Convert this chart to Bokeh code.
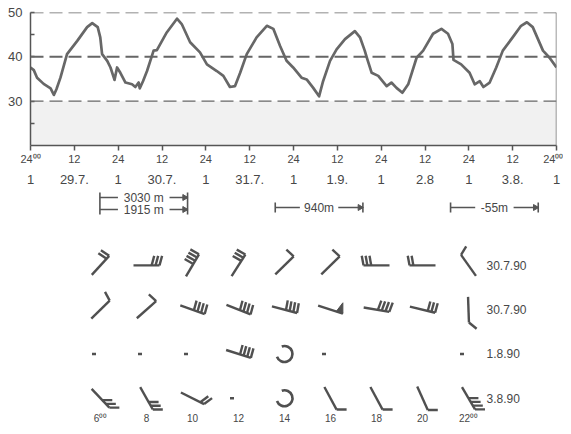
import math
from bokeh.plotting import figure
from bokeh.models import Range1d, FixedTicker, LinearAxis, Span, BoxAnnotation, Label
from bokeh.layouts import column
from bokeh.embed import file_html
from bokeh.resources import INLINE
from bokeh.core.properties import value

FONT = "Liberation Sans"
INK = "#474747"
LINEC = "#666666"

# ---------------- data ----------------
# temperature trace (hours since 24:00 of 28.7., degrees C)
hours = [0, 0.9, 1.8, 3.6, 5.5, 6.4, 7.1, 8.2, 10.0, 12.8, 15.5, 16.9, 18.4, 19.1, 19.6, 21.0,
         21.9, 23.0, 23.7, 24.6, 26.0, 27.8, 28.7, 29.6, 29.9, 30.8, 31.9, 33.7, 34.6, 37.3,
         40.1, 41.4, 43.7, 46.4, 48.3, 51.0, 52.8, 54.6, 56.0, 57.4, 59.2, 61.9, 64.7, 66.5,
         68.3, 70.1, 71.9, 74.2, 75.6, 77.4, 79.0, 80.1, 82.0, 83.8, 86.1, 88.8, 90.2, 91.5,
         92.2, 93.4, 95.2, 97.5, 98.8, 100.2, 101.8, 103.4, 105.7, 107.5, 110.2, 112.5, 114.3,
         115.5, 115.8, 117.9, 120.2, 121.6, 123.0, 124.0, 125.7, 127.5, 129.3, 132.0, 134.3,
         135.9, 137.5, 140.3, 142.1, 144.0]
temps = [37.6, 37.0, 35.3, 33.9, 32.9, 31.4, 32.7, 35.3, 40.6, 43.6, 46.7, 47.6, 46.7, 44.4, 40.6, 39.1,
         37.6, 34.8, 37.6, 36.4, 34.2, 33.8, 33.2, 34.2, 32.9, 34.5, 36.8, 41.4, 41.5, 45.5,
         48.6, 47.4, 43.3, 41.0, 38.3, 36.8, 35.7, 33.2, 33.4, 36.4, 40.6, 44.4, 47.0, 46.3,
         42.5, 39.1, 37.6, 35.3, 34.9, 33.0, 31.1, 34.5, 39.1, 41.7, 44.0, 45.8, 44.4, 41.4,
         39.5, 36.4, 35.7, 33.4, 34.2, 33.0, 31.9, 33.8, 39.8, 41.4, 45.2, 46.3, 45.2,
         42.9, 39.3, 38.3, 36.4, 33.8, 34.5, 33.2, 34.2, 37.6, 41.4, 44.4, 47.0,
         47.8, 46.7, 41.4, 39.8, 37.6]

tick_hours = [0, 12, 24, 36, 48, 60, 72, 84, 96, 108, 120, 132, 144]
clock_labels = ["24\u2070\u2070", "12", "24", "12", "24", "12", "24", "12", "24", "12", "24", "12", "24\u2070\u2070"]
date_labels = ["1", "29.7.", "1", "30.7.", "1", "31.7.", "1", "1.9.", "1", "2.8", "1", "3.8.", "1"]
temp_ticks = [25, 30, 40, 45, 50]
temp_tick_labels = ["", "30", "40", "", "50"]
ref_levels = [30, 40, 50]
shade_bottom, shade_top = 20, 30

bracket_start = [19, 67, 115]
bracket_end = [43, 91, 139]
bracket_texts = [["3030 m", "1915 m"], ["940m"], ["-55m"]]

wind_hours = [6, 8, 10, 12, 14, 16, 18, 20, 22]
wind_hour_labels = ["6\u2070\u2070", "8", "10", "12", "14", "16", "18", "20", "22\u2070\u2070"]
row_dates = ["30.7.90", "30.7.90", "1.8.90", "3.8.90"]
# state: b = wind barb, c = calm, m = missing, n = nothing
row1_state = ["b", "b", "b", "b", "b", "b", "b", "b", "b"]
row1_shaft = [48, 0, 60, 58, 45, 45, 180, 180, 125]
row1_feather = [146, 75, 150, 150, 137, 137, 100, 100, 59]
row1_count = [2, 3, 4, 3, 1, 1, 3, 2, 1]
row1_pennant = [0, 0, 0, 0, 0, 0, 0, 0, 0]

row2_state = ["b", "b", "b", "b", "b", "b", "b", "b", "b"]
row2_shaft = [45, 42, -20, -22, -15, -18, -10, -14, -88]
row2_feather = [118, 137, 75, 75, 80, 90, 70, 75, -40]
row2_count = [1, 1, 4, 4, 4, 0, 4, 3, 1]
row2_pennant = [0, 0, 0, 0, 0, 1, 0, 0, 0]

row3_state = ["m", "m", "m", "b", "c", "m", "n", "n", "m"]
row3_shaft = [0, 0, 0, -18, 0, 0, 0, 0, 0]
row3_feather = [0, 0, 0, 75, 0, 0, 0, 0, 0]
row3_count = [0, 0, 0, 4, 0, 0, 0, 0, 0]
row3_pennant = [0, 0, 0, 0, 0, 0, 0, 0, 0]

row4_state = ["b", "b", "b", "m", "c", "b", "b", "b", "b"]
row4_shaft = [-47, -61, -27, 0, 0, -62, -62, -66, -60]
row4_feather = [0, 0, 37, 0, 0, 0, 0, 0, 0]
row4_count = [3, 3, 2, 0, 0, 1, 1, 1, 4]
row4_pennant = [0, 0, 0, 0, 0, 0, 0, 0, 0]

# ---------------- layout constants ----------------
W = 563
FRAME_L, FRAME_R = 30, 7
FW = W - FRAME_L - FRAME_R

# ---------------- figure 1 : temperature ----------------
p1 = figure(width=W, height=191, x_range=Range1d(0, 144), y_range=Range1d(20, 50),
            output_backend="svg", toolbar_location=None,
            min_border_left=FRAME_L, min_border_right=FRAME_R, min_border_top=12,
            min_border_bottom=46)
p1.outline_line_color = None
p1.grid.visible = False

p1.add_layout(BoxAnnotation(bottom=shade_bottom, top=shade_top, fill_color="#f1f1f1",
                            fill_alpha=1, line_color=None, level="underlay"))
for lv in ref_levels:
    p1.add_layout(Span(location=lv, dimension="width", line_color=LINEC,
                       line_width=2.0 if lv == 40 else 1.3, line_dash="13 6"))
p1.add_layout(Span(location=tick_hours[-1], dimension="height", line_color="#777777", line_width=1.5))

p1.line(hours, temps, line_color="#676767", line_width=2.7, line_join="round")

yax = p1.yaxis[0]
yax.ticker = FixedTicker(ticks=temp_ticks)
yax.major_label_overrides = {t: l for t, l in zip(temp_ticks, temp_tick_labels)}
yax.major_tick_in = 4
yax.major_tick_out = 0
yax.minor_tick_line_color = None
yax.axis_line_color = "#555555"
yax.axis_line_width = 1.5
yax.major_tick_line_color = "#555555"
yax.major_tick_line_width = 1.5
yax.major_label_standoff = 8
yax.major_label_text_font = FONT
yax.major_label_text_font_size = "13px"
yax.major_label_text_color = INK

xax = p1.xaxis[0]
xax.ticker = FixedTicker(ticks=tick_hours)
xax.major_label_overrides = {t: l for t, l in zip(tick_hours, clock_labels)}
xax.major_tick_in = 0
xax.major_tick_out = 5
xax.minor_tick_line_color = None
xax.axis_line_color = "#555555"
xax.axis_line_width = 1.5
xax.major_tick_line_color = "#555555"
xax.major_tick_line_width = 1.5
xax.major_label_standoff = 2
xax.major_label_text_font = FONT
xax.major_label_text_font_size = "11px"
xax.major_label_text_color = INK

ax2 = LinearAxis(ticker=FixedTicker(ticks=tick_hours),
                 major_label_overrides={t: l for t, l in zip(tick_hours, date_labels)},
                 axis_line_color=None, major_tick_line_color=None, minor_tick_line_color=None,
                 major_tick_out=0, major_tick_in=0,
                 major_label_standoff=7, major_label_text_font=FONT,
                 major_label_text_font_size="13px", major_label_text_color=INK)
p1.add_layout(ax2, "below")

p1.add_layout(Label(x=0, y=46.7, x_offset=-20, text="\u00b0C", text_font=FONT,
                    text_font_size="12px", text_color=INK, text_baseline="middle",
                    text_align="left"))

# ---------------- figure 2 : height brackets ----------------
p2 = figure(width=W, height=30, x_range=p1.x_range, y_range=Range1d(30, 0),
            output_backend="svg", toolbar_location=None, x_axis_location=None,
            y_axis_location=None, min_border_left=FRAME_L, min_border_right=FRAME_R,
            min_border_top=0, min_border_bottom=0)
p2.outline_line_color = None
p2.grid.visible = False
px_h = 144.0 / FW
bx0, by0, bx1, by1 = [], [], [], []
tx, ty, tt = [], [], []
ax_, ay_ = [], []
for s, e, texts in zip(bracket_start, bracket_end, bracket_texts):
    rows_y = [6, 18] if len(texts) == 2 else [16]
    top, bot = rows_y[0] - 5, rows_y[-1] + 5
    bx0 += [s, e]; bx1 += [s, e]; by0 += [top, top]; by1 += [bot, bot]
    span_px = (e - s) / px_h
    for yy, t in zip(rows_y, texts):
        tw = len(t) * 6.6
        ln = (span_px - tw) / 2 - 6
        bx0 += [s, e - ln * px_h]; bx1 += [s + ln * px_h, e]
        by0 += [yy, yy]; by1 += [yy, yy]
        ax_.append(e - 3 * px_h); ay_.append(yy)
        tx.append((s + e) / 2); ty.append(yy); tt.append(t)
p2.segment(bx0, by0, bx1, by1, line_color="#555555", line_width=1.6)
p2.scatter(ax_, ay_, marker="triangle", size=6, angle=-math.pi / 2,
           fill_color="#555555", line_color="#555555")
p2.text(tx, ty, text=tt, text_font=value(FONT), text_font_size="12px", text_color=INK,
        text_align="center", text_baseline="middle")

# ---------------- figure 3 : wind symbols ----------------
PX_PER_H = 23.0
X0 = 6 - (100 - FRAME_L) / PX_PER_H
X1 = X0 + FW / PX_PER_H
FH = 194
Y1 = 4.99
Y0 = Y1 - FH / 45.0
p3 = figure(width=W, height=205, x_range=Range1d(X0, X1), y_range=Range1d(Y0, Y1),
            output_backend="svg", toolbar_location=None, y_axis_location=None,
            min_border=0, min_border_left=FRAME_L, min_border_right=FRAME_R,
            min_border_bottom=205 - FH)
p3.outline_line_color = None
p3.grid.visible = False
kx = FW / (X1 - X0)
ky = FH / (Y1 - Y0)

sx0, sy0, sx1, sy1 = [], [], [], []
px_, py_ = [], []
cx_, cy_ = [], []
L, F, SP = 26.0, 10.0, 3.8


def add_row(rv, state, shaft, feather, count, pennant):
    for h, st, a, b, n, pn in zip(wind_hours, state, shaft, feather, count, pennant):
        if st == "m":
            sx0.append(h - 8.5 / kx); sx1.append(h - 4.5 / kx)
            sy0.append(rv); sy1.append(rv)
        elif st == "c":
            cx_.append(h); cy_.append(rv)
        elif st == "b":
            ux, uy = math.cos(math.radians(a)), math.sin(math.radians(a))
            wx, wy = math.cos(math.radians(b)), math.sin(math.radians(b))
            S = SP / max(0.5, abs(math.sin(math.radians(b - a))))

            def pt(dx, dy):
                return h + dx / kx, rv + dy / ky

            x0, y0 = pt(-L / 2 * ux, -L / 2 * uy)
            x1, y1 = pt(L / 2 * ux, L / 2 * uy)
            sx0.append(x0); sy0.append(y0); sx1.append(x1); sy1.append(y1)
            off = 0.0
            if pn:
                t = (L / 2 * ux, L / 2 * uy)
                a1 = pt(*t)
                a2 = pt(t[0] + 11 * wx, t[1] + 11 * wy)
                a3 = pt(t[0] - 7 * ux, t[1] - 7 * uy)
                px_.append([a1[0], a2[0], a3[0]]); py_.append([a1[1], a2[1], a3[1]])
                off = 8.0
            for i in range(n):
                d = L / 2 - off - i * S
                fx0, fy0 = pt(d * ux, d * uy)
                fx1, fy1 = pt(d * ux + F * wx, d * uy + F * wy)
                sx0.append(fx0); sy0.append(fy0); sx1.append(fx1); sy1.append(fy1)


add_row(4, row1_state, row1_shaft, row1_feather, row1_count, row1_pennant)
add_row(3, row2_state, row2_shaft, row2_feather, row2_count, row2_pennant)
add_row(2, row3_state, row3_shaft, row3_feather, row3_count, row3_pennant)
add_row(1, row4_state, row4_shaft, row4_feather, row4_count, row4_pennant)

WC = "#505050"
p3.segment(sx0, sy0, sx1, sy1, line_color=WC, line_width=2.4)
if px_:
    p3.patches(px_, py_, fill_color=WC, line_color=WC, line_width=1)
p3.arc(cx_, cy_, radius=8, radius_units="screen", start_angle=math.radians(200),
       end_angle=math.radians(110), line_color=WC, line_width=2.6)

p3.text([6 + (486 - 100) / PX_PER_H] * 4, [4, 3, 2, 1], text=row_dates, text_font=value(FONT),
        text_font_size="12px", text_color=INK, text_baseline="middle", text_align="left")

x3 = p3.xaxis[0]
x3.ticker = FixedTicker(ticks=wind_hours)
x3.major_label_overrides = {t: l for t, l in zip(wind_hours, wind_hour_labels)}
x3.axis_line_color = None
x3.major_tick_line_color = None
x3.minor_tick_line_color = None
x3.major_tick_out = 0
x3.major_tick_in = 0
x3.major_label_standoff = 0
x3.major_label_text_font = FONT
x3.major_label_text_font_size = "10px"
x3.major_label_text_color = INK

layout = column(p1, p2, p3)
open("out.html", "w").write(file_html(layout, INLINE))
